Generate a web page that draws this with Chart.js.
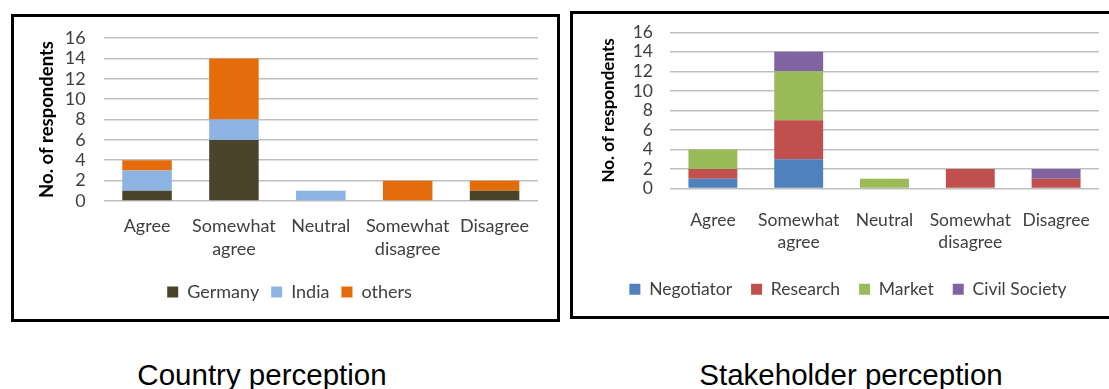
<!DOCTYPE html>
<html>
<head>
<meta charset="utf-8">
<script src="https://cdn.jsdelivr.net/npm/chart.js@4/dist/chart.umd.min.js"></script>
<style>
  html, body { margin: 0; padding: 0; background: #fff; overflow: hidden; }
  body { width: 1109px; height: 389px; position: relative; }
  .frame { position: absolute; box-sizing: border-box; border: 3px solid #000; }
  .caption {
    position: absolute; width: 400px; text-align: center;
    font-family: "Liberation Sans", Arial, sans-serif; font-size: 29.5px;
    line-height: 29px; color: #000;
  }
</style>
</head>
<body>
<div class="frame" style="left:11px; top:14px; width:549px; height:308px;">
  <div style="position:absolute; left:0; top:0; width:543px; height:302px;">
    <canvas id="country-chart"></canvas>
  </div>
</div>
<div class="frame" style="left:570px; top:11px; width:560px; height:308px;">
  <div style="position:absolute; left:0; top:0; width:536px; height:302px;">
    <canvas id="stakeholder-chart"></canvas>
  </div>
</div>
<div class="caption" style="left:62px; top:360px;">Country perception</div>
<div class="caption" style="left:651px; top:360px;">Stakeholder perception</div>

<script>
// answer categories on the x axis
const responses = ['Agree', ['Somewhat', 'agree'], 'Neutral', ['Somewhat', 'disagree'], 'Disagree'];
const countTicks = [0, 2, 4, 6, 8, 10, 12, 14, 16];

// respondents by country
const germany = [1, 6, 0, 0, 1];
const india = [2, 2, 1, 0, 0];
const others = [1, 6, 0, 2, 1];

// respondents by stakeholder group
const negotiator = [1, 3, 0, 0, 0];
const research = [1, 4, 0, 2, 1];
const market = [2, 5, 1, 0, 0];
const civilSociety = [0, 2, 0, 0, 1];

Chart.defaults.font.family = 'Lato, "Open Sans", sans-serif';
Chart.defaults.color = '#404040';

function stackedBars(canvas, datasets, opts) {
  return new Chart(canvas, {
    type: 'bar',
    data: {
      labels: responses,
      datasets: datasets.map(d => ({
        label: d.label,
        data: d.data,
        backgroundColor: d.color,
        borderWidth: 0,
        barPercentage: 0.57,
        categoryPercentage: 1
      }))
    },
    options: {
      responsive: true,
      maintainAspectRatio: false,
      animation: false,
      layout: { padding: opts.padding },
      plugins: {
        tooltip: { enabled: false },
        legend: {
          position: 'bottom',
          labels: {
            boxWidth: 11,
            boxHeight: 11,
            padding: opts.legendPad,
            color: '#404040',
            font: { size: opts.fontSize }
          }
        }
      },
      scales: {
        x: {
          stacked: true,
          grid: { display: false },
          border: { display: false },
          ticks: {
            padding: opts.xPad,
            maxRotation: 0,
            autoSkip: false,
            font: { size: opts.fontSize, lineHeight: 1.27 }
          },
          afterFit: s => { s.height = opts.xHeight; }
        },
        y: {
          stacked: true,
          min: 0,
          max: 16,
          afterBuildTicks: s => { s.ticks = countTicks.map(v => ({ value: v })); },
          // invisible tick marks keep the labels clear of the plot
          grid: { color: '#bfbfbf', lineWidth: 1.6, tickLength: opts.yGap, tickColor: 'rgba(0,0,0,0)' },
          border: { display: false },
          ticks: { padding: 0, autoSkip: false, font: { size: opts.fontSize } },
          title: {
            display: true,
            text: 'No. of respondents',
            color: '#000',
            font: { size: opts.titleSize, weight: 'bold' },
            padding: { top: opts.titlePad, bottom: 0 }
          },
          afterFit: s => { s.width = opts.yWidth; }
        }
      }
    }
  });
}

stackedBars(document.getElementById('country-chart'), [
  { label: 'Germany', data: germany, color: '#4a452a' },
  { label: 'India', data: india, color: '#8db3e2' },
  { label: 'others', data: others, color: '#e46c0a' }
], {
  padding: { left: 27, right: 19, top: 21, bottom: 8 },
  fontSize: 18, titleSize: 18.5, legendPad: 12, xPad: 6, xHeight: 70,
  yGap: 18, yWidth: 62.6, titlePad: -5
});

stackedBars(document.getElementById('stakeholder-chart'), [
  { label: 'Negotiator', data: negotiator, color: '#4f81bd' },
  { label: 'Research', data: research, color: '#c0504d' },
  { label: 'Market', data: market, color: '#9bbb59' },
  { label: 'Civil Society', data: civilSociety, color: '#8064a2' }
], {
  padding: { left: 24, right: 10, top: 18.3, bottom: 8 },
  fontSize: 17.5, titleSize: 17, legendPad: 19, xPad: 13, xHeight: 73,
  yGap: 17, yWidth: 73, titlePad: 1.5
});
</script>
</body>
</html>
